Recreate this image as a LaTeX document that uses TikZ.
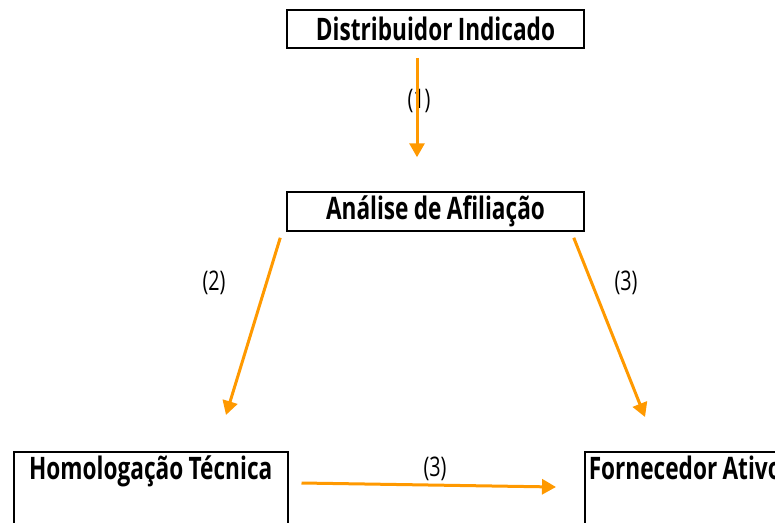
\documentclass[tikz,border=0pt]{standalone}
\usepackage{fontspec}
\setmainfont{Open Sans}[FakeStretch=0.73, WordSpace=0.9]
\usetikzlibrary{arrows.meta}
\definecolor{arr}{HTML}{FF9900}
\tikzset{
  box/.style={draw=black, line width=1.5pt, fill=white, inner sep=0pt, font=\fontsize{31}{36}\selectfont\bfseries},
  lbl/.style={font=\fontsize{27}{32}\selectfont, inner sep=0pt},
  conn/.style={draw=arr, line width=3pt, -{Triangle[width=15pt,length=14pt]}}
}
\begin{document}
\begin{tikzpicture}[x=1pt,y=-1pt]
\useasboundingbox (0,0) rectangle (775,522);
\node[box, minimum width=297pt, minimum height=38pt] (dist) at (435.5,29) {Distribuidor Indicado};
\node[box, minimum width=297pt, minimum height=39pt] (anal) at (435.5,211.5) {Análise de Afiliação};
\node[box, anchor=north west, minimum width=274pt, text width=274pt, align=flush center, text height=28pt, text depth=70pt, inner ysep=0pt] (homo) at (13,451) {Homologação Técnica};
\node[box, anchor=north west, minimum width=240pt, text width=240pt, align=flush left, text height=28pt, text depth=70pt, inner ysep=0pt, inner xsep=4pt] (forn) at (584,451) {Fornecedor Ativo};
\node[lbl] (l1) at (419,101) {(1)};
\node[lbl] (l2) at (214,283) {(2)};
\node[lbl] (l3) at (626,283) {(3)};
\node[lbl] (l4) at (435,469) {(3)};
\coordinate (a1s) at ([xshift=-18.5pt,yshift=-9pt]dist.south);
\coordinate (a1e) at ([xshift=-18.5pt,yshift=34pt]anal.north);
\coordinate (a2s) at ([xshift=-6pt,yshift=-6pt]anal.south west);
\coordinate (a2e) at ([xshift=213pt,yshift=36pt]homo.north west);
\coordinate (a3s) at ([xshift=-11pt,yshift=-6pt]anal.south east);
\coordinate (a3e) at ([xshift=61pt,yshift=34pt]forn.north west);
\coordinate (a4s) at ([xshift=13pt,yshift=-32pt]homo.north east);
\coordinate (a4e) at ([xshift=-28pt,yshift=-36pt]forn.north west);
\draw[conn] (a1s) -- (a1e);
\draw[conn] (a2s) -- (a2e);
\draw[conn] (a3s) -- (a3e);
\draw[conn] (a4s) -- (a4e);
\end{tikzpicture}
\end{document}
